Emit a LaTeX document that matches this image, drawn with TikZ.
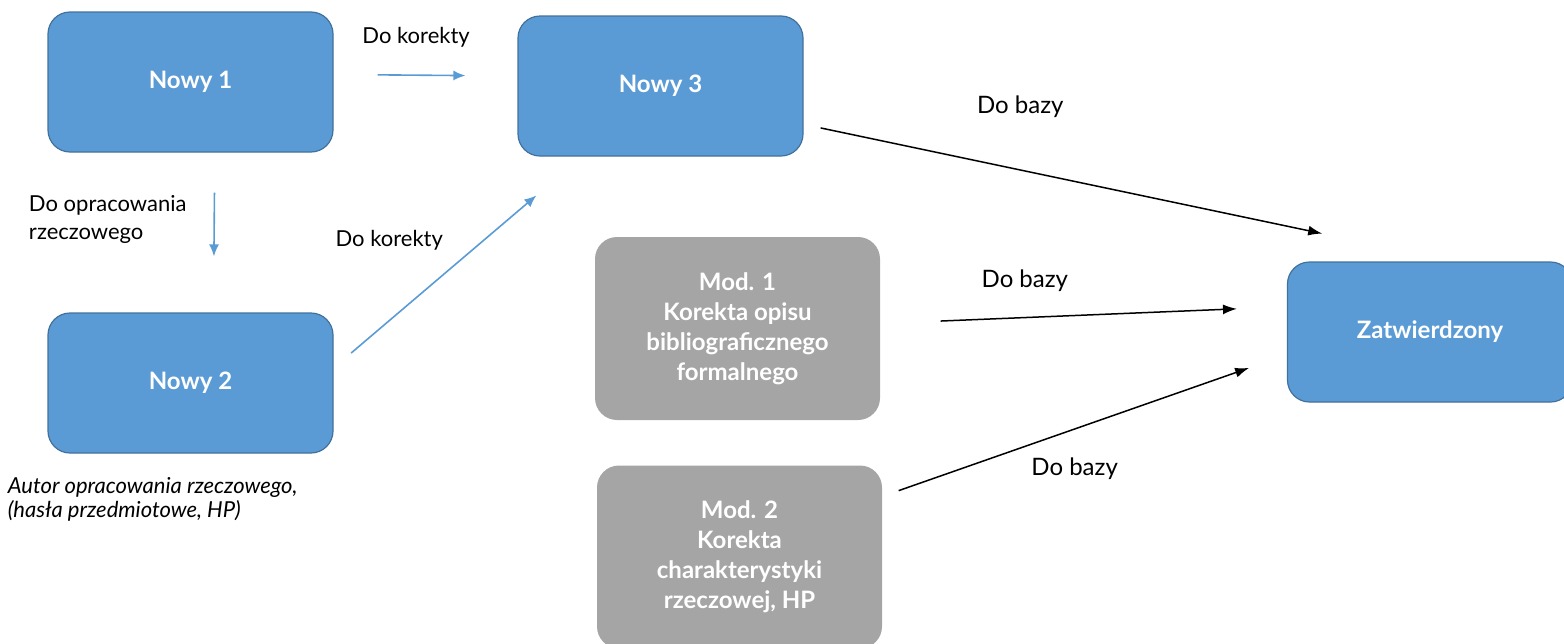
\documentclass[tikz,border=0pt]{standalone}
\usepackage{fontspec}
\setmainfont{Lato}
\usetikzlibrary{arrows.meta,positioning}

\definecolor{bluefill}{HTML}{5B9BD5}
\definecolor{blueline}{HTML}{41719C}
\definecolor{modgray}{HTML}{A5A5A5}

\begin{document}
\begin{tikzpicture}[x=0.5pt,y=-0.5pt,on grid,>={Latex[length=6pt,width=5pt]}]
       \tikzstyle{nowy}=[rectangle, rounded corners=11pt, draw=blueline, fill=bluefill,
                         line width=0.6pt, text=white, align=center,
                         font=\bfseries\fontsize{12}{15}\selectfont,
                         minimum width=142.5pt, minimum height=70pt]
       \tikzstyle{mod}=[nowy, draw=none, fill=modgray, minimum height=91.5pt]
       \tikzstyle{lbl}=[inner sep=0pt, align=left, text=black,
                        font=\fontsize{12}{14}\selectfont]
       \tikzstyle{small lbl}=[lbl, font=\fontsize{11}{14}\selectfont]
       \tikzstyle{blue flow}=[color=bluefill, line width=0.8pt]
       \tikzstyle{black flow}=[color=black, line width=0.75pt,
                               >={Latex[length=7pt,width=5pt]}]

       \useasboundingbox (0,0) rectangle (1564,643);
       \clip (0,0) rectangle (1564,643);

       \node[nowy] (n1) at (190.5,82)                        {Nowy 1};
       \node[nowy] (n3) [right=235pt of n1, yshift=-2pt]    {Nowy 3};
       \node[nowy] (n2) [below=150.5pt of n1]               {Nowy 2};
       \node[mod]  (m1) [below=121.25pt of n3, xshift=38.5pt]
                        {Mod. 1\\Korekta opisu\\bibliograficznego\\formalnego};
       \node[mod]  (m2) [below=114.25pt of m1, xshift=1pt]
                        {Mod. 2\\Korekta\\charakterystyki\\rzeczowej, HP};
       \node[nowy] (zt) [right=346.25pt of m1, yshift=-1.75pt] {Zatwierdzony};

       \node[lbl, font=\itshape\fontsize{11}{12}\selectfont]
            (autor) [below=11.5pt of n2.south west, anchor=north west, xshift=-20pt]
            {Autor opracowania rzeczowego,\\(hasła przedmiotowe, HP)};

       \path[->, blue flow]
       (n1.3)   edge [shorten <=22pt, shorten >=26pt]
                node[small lbl, pos=0.449, yshift=19pt] {Do korekty} (n3.176)
       (n1.289) edge [shorten <=20pt, shorten >=28pt]
                node[small lbl, pos=0.416, left=13.5pt] {Do opracowania\\rzeczowego} (n2.72)
       (n2.6)   edge [shorten <=11.5pt, shorten >=30pt]
                node[small lbl, pos=0.602, left=19.75pt] {Do korekty} (n3.222);

       \path[->, black flow]
       (n3.345) edge [shorten <=8.7pt, shorten >=67.5pt]
                node[lbl, pos=0.333, above=26pt] {Do bazy} (zt.71)
       (m1.2)   edge [shorten <=30pt, shorten >=25pt]
                node[lbl, pos=0.355, above=12.5pt] {Do bazy} (zt.170)
       (m2.23)  edge [shorten <=8.5pt, shorten >=20pt]
                node[lbl, pos=0.475, below=14pt] {Do bazy} (zt.189);
     \end{tikzpicture}
\end{document}
